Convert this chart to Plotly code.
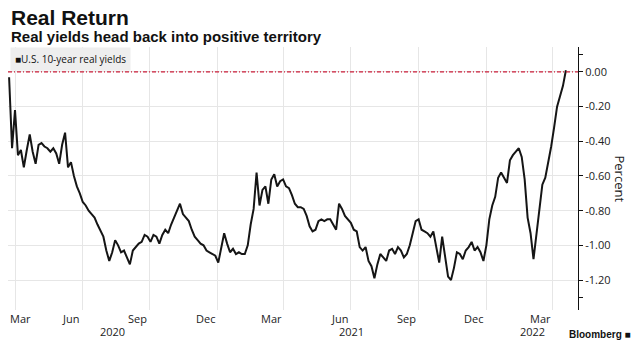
import pandas as pd
import plotly.graph_objects as go

# ---------------- data ----------------
series_name = "U.S. 10-year real yields"
start_date = "2020-03-24"
step = "4D"
yields = [
    -0.03, -0.44, -0.22, -0.48, -0.45, -0.55, -0.45, -0.36, -0.46, -0.53,
    -0.42, -0.41, -0.43, -0.44, -0.46, -0.44, -0.47, -0.53, -0.42, -0.35,
    -0.55, -0.52, -0.60, -0.66, -0.70, -0.75, -0.77, -0.80, -0.82, -0.84,
    -0.88, -0.92, -0.95, -1.03, -1.09, -1.04, -0.97, -1.00, -1.04, -1.03,
    -1.07, -1.11, -1.03, -1.01, -0.99, -0.98, -0.94, -0.95, -0.98, -0.94,
    -0.95, -0.99, -0.94, -0.91, -0.93, -0.88, -0.84, -0.81, -0.76, -0.82,
    -0.84, -0.86, -0.91, -0.95, -0.97, -0.99, -1.00, -1.03, -1.04, -1.05,
    -1.06, -1.10, -1.02, -0.93, -0.99, -1.04, -1.02, -1.05, -1.04, -1.05,
    -1.05, -1.00, -0.88, -0.79, -0.58, -0.77, -0.68, -0.66, -0.76, -0.62,
    -0.59, -0.66, -0.63, -0.62, -0.66, -0.67, -0.71, -0.76, -0.78, -0.78,
    -0.79, -0.83, -0.89, -0.92, -0.91, -0.86, -0.85, -0.86, -0.85, -0.85,
    -0.88, -0.91, -0.76, -0.79, -0.83, -0.85, -0.87, -0.91, -0.92, -1.01,
    -1.03, -1.01, -1.09, -1.12, -1.19, -1.11, -1.05, -1.07, -1.09, -1.03,
    -1.02, -1.05, -1.01, -1.03, -1.07, -1.05, -1.00, -0.93, -0.86, -0.85,
    -0.91, -0.92, -0.93, -0.95, -0.92, -1.01, -1.10, -0.95, -1.06, -1.18,
    -1.20, -1.13, -1.04, -1.05, -1.08, -1.03, -1.01, -0.98, -1.03, -1.01,
    -1.04, -1.09, -1.00, -0.85, -0.77, -0.72, -0.61, -0.58, -0.61, -0.64,
    -0.51, -0.48, -0.46, -0.44, -0.49, -0.62, -0.84, -0.93, -1.08, -0.93,
    -0.79, -0.65, -0.61, -0.53, -0.43, -0.32, -0.20, -0.14, -0.08, 0.01,
]
dates = pd.date_range(start_date, periods=len(yields), freq=step)

grid_dates = ["2020-04-01", "2020-07-01", "2020-10-01", "2021-01-01", "2021-04-01",
              "2021-07-01", "2021-10-01", "2022-01-01", "2022-04-01"]
month_label_dates = ["2020-03-15", "2020-06-15", "2020-09-15", "2020-12-15", "2021-03-15",
                     "2021-06-15", "2021-09-15", "2021-12-15", "2022-03-15"]
month_labels = ["Mar", "Jun", "Sep", "Dec", "Mar", "Jun", "Sep", "Dec", "Mar"]
year_label_dates = ["2020-08-12", "2021-07-02", "2022-03-04"]
year_labels = ["2020", "2021", "2022"]

y_ticks = [0.0, -0.2, -0.4, -0.6, -0.8, -1.0, -1.2]
y_ticktext = ["0.00", "-0.20", "-0.40", "-0.60", "-0.80", "-1.00", "-1.20"]

x_range = ["2020-03-22 12:00", "2022-05-05 10:00"]
y_range = [-1.373, 0.144]

FONT = "Open Sans"
TXT = "#222222"

fig = go.Figure()
fig.add_trace(go.Scatter(
    x=dates, y=yields, mode="lines", name=series_name,
    line=dict(color="#151515", width=2.0), showlegend=False,
))

# zero reference line
fig.add_shape(type="line", xref="paper", x0=0, x1=1, yref="y", y0=0, y1=0,
              line=dict(color="#cc1f3a", width=1.3, dash="4px,2px,1px,2px"), layer="above")

annotations = []
x0 = pd.Timestamp(x_range[0])
for d, t in zip(month_label_dates, month_labels):
    if pd.Timestamp(d) < x0:
        annotations.append(dict(xref="paper", x=0, xanchor="left", yref="paper", y=0,
                                yanchor="middle", yshift=-8, text=t, showarrow=False,
                                font=dict(family=FONT, size=11, color=TXT)))
    else:
        annotations.append(dict(xref="x", x=d, xanchor="center", yref="paper", y=0,
                                yanchor="middle", yshift=-8, text=t, showarrow=False,
                                font=dict(family=FONT, size=11, color=TXT)))
for d, t in zip(year_label_dates, year_labels):
    annotations.append(dict(xref="x", x=d, xanchor="center", yref="paper", y=0,
                            yanchor="middle", yshift=-21, text=t, showarrow=False,
                            font=dict(family=FONT, size=11, color=TXT)))

# legend box
annotations.append(dict(xref="paper", x=0, xanchor="left", xshift=2, yref="paper", y=1,
                        yanchor="top", text="■" + series_name, showarrow=False,
                        bgcolor="#eeeeee", borderpad=4,
                        font=dict(family=FONT, size=10, color="#111111")))
# axis title
annotations.append(dict(xref="paper", x=1, xanchor="center", xshift=42, yref="paper", y=0.5,
                        yanchor="middle", text="Percent", textangle=90, showarrow=False,
                        font=dict(family=FONT, size=13, color=TXT)))
# titles
annotations.append(dict(xref="paper", x=0, xanchor="left", xshift=1, yref="paper", y=1,
                        yanchor="bottom", yshift=16, text="<b>Real Return</b>", showarrow=False,
                        font=dict(family="Liberation Sans", size=21, color="#111111")))
annotations.append(dict(xref="paper", x=0, xanchor="left", xshift=1, yref="paper", y=1,
                        yanchor="bottom", yshift=0, text="<b>Real yields head back into positive territory</b>",
                        showarrow=False, font=dict(family="Liberation Sans", size=15, color="#111111")))
# source logo at the bottom right corner (kept fully inside the page)
annotations.append(dict(xref="paper", x=1, xanchor="right", xshift=54, yref="paper", y=0,
                        yanchor="bottom", yshift=-31, text="<b>Bloomberg ■</b>", showarrow=False,
                        borderpad=0, font=dict(family="Liberation Sans", size=10, color="#111111")))

fig.update_layout(
    width=634, height=341,
    margin=dict(l=8, r=56, t=47, b=31),
    paper_bgcolor="white", plot_bgcolor="white",
    annotations=annotations,
    xaxis=dict(range=x_range, type="date", tickmode="array", tickvals=grid_dates,
               ticktext=[""] * len(grid_dates), showgrid=True, gridcolor="#e6e6e6",
               gridwidth=1, zeroline=False, showline=False, ticks=""),
    yaxis=dict(range=y_range, side="right", tickmode="array", tickvals=y_ticks,
               ticktext=y_ticktext, showgrid=True, gridcolor="#e6e6e6", gridwidth=1,
               zeroline=False, showline=True, linecolor="#111111", linewidth=1,
               ticks="outside", ticklen=4, tickcolor="#111111",
               tickfont=dict(family=FONT, size=11, color=TXT),
               minor=dict(tickmode="array", tickvals=[0.1, -1.3], ticks="outside",
                          ticklen=4, tickcolor="#111111", showgrid=False)),
)

fig.write_html("out.html")
